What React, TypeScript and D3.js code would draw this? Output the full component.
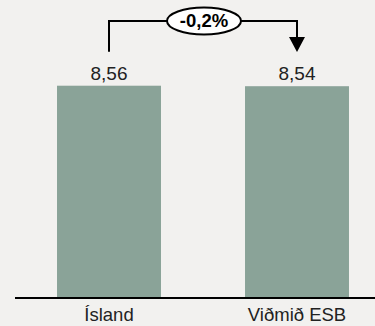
import React from "react";
import * as d3 from "d3";

const categories = ["Ísland", "Viðmið ESB"];
const values = [8.56, 8.54];
const valueLabels = ["8,56", "8,54"];
const changeLabel = "-0,2%";

const W = 375;
const H = 326;

export default function App() {
  const x = d3.scaleBand<string>().domain(categories).range([15, 391]).paddingInner(0.447).paddingOuter(0.2235);
  const y = d3.scaleLinear().domain([0, 10]).range([298, 50]);
  const c0 = (x(categories[0]) ?? 0) + x.bandwidth() / 2;
  const c1 = (x(categories[1]) ?? 0) + x.bandwidth() / 2;
  const topY = 21;
  const ex = 204;
  const rx = 37;
  const font = "Liberation Sans, Arial, sans-serif";
  return (
    <svg width={W} height={H} style={{ position: "absolute", left: 0, top: 0, background: "#f2f1ef" }}>
      <rect x={0} y={0} width={W} height={H} fill="#f2f1ef" />
      {categories.map((c, i) => (
        <g key={c}>
          <rect x={x(c)} y={y(values[i])} width={x.bandwidth()} height={y(0) - y(values[i])} fill="#8aa398" />
          <text x={(x(c) ?? 0) + x.bandwidth() / 2} y={y(values[i]) - 6} textAnchor="middle" fontFamily={font} fontSize={19} fill="#222">
            {valueLabels[i]}
          </text>
          <text x={(x(c) ?? 0) + x.bandwidth() / 2} y={321} textAnchor="middle" fontFamily={font} fontSize={18.5} fill="#222">
            {c}
          </text>
        </g>
      ))}
      <line x1={15} x2={375} y1={298} y2={298} stroke="#000" strokeWidth={2} />
      <path d={`M${c0},${y(values[0]) - 34} V${topY} H${ex - rx}`} fill="none" stroke="#000" strokeWidth={2} />
      <path d={`M${ex + rx},${topY} H${c1} V${38}`} fill="none" stroke="#000" strokeWidth={2} />
      <path d={`M${c1 - 8},${37} L${c1 + 8},${37} L${c1},${52} Z`} fill="#000" />
      <ellipse cx={ex} cy={21} rx={rx} ry={13.5} fill="#fff" stroke="#000" strokeWidth={2} />
      <text x={ex} y={27} textAnchor="middle" fontFamily={font} fontSize={18.5} fontWeight="bold" fill="#000">
        {changeLabel}
      </text>
    </svg>
  );
}
